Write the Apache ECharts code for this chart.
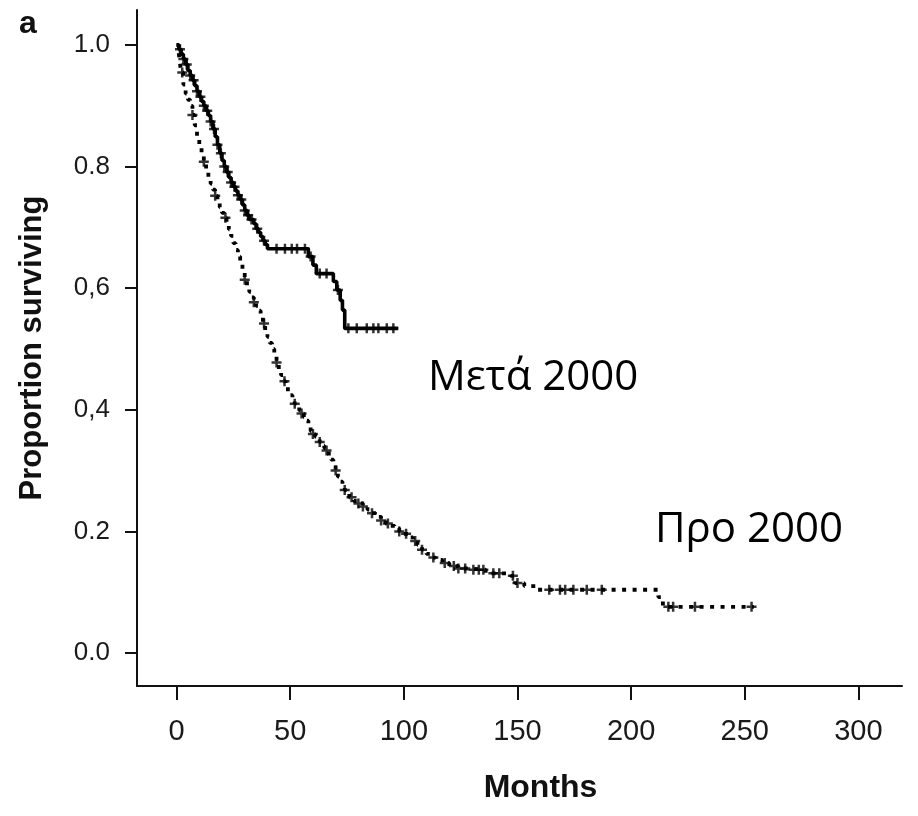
<!DOCTYPE html>
<html>
<head>
<meta charset="utf-8">
<script src="https://cdn.jsdelivr.net/npm/echarts@6/dist/echarts.min.js"></script>
<style>
  html, body { margin: 0; padding: 0; background: #fff; }
  #chart { width: 918px; height: 816px; }
</style>
</head>
<body>
<div id="chart"></div>
<script>
// Axis ticks
const xTicks = [0, 50, 100, 150, 200, 250, 300];
const yTicks = [0, 0.2, 0.4, 0.6, 0.8, 1.0];
const yTickLabels = ['0.0', '0.2', '0,4', '0,6', '0.8', '1.0'];

// Kaplan–Meier curve, patients treated after 2000 (time in months, survival after each drop)
const afterTimes = [0, 1, 2, 3, 4, 5, 6, 7, 8, 9, 10, 11, 12, 13, 14, 15, 16, 17, 18, 19, 20,
  21, 22, 23, 24, 25, 26, 27, 28, 29, 30, 31, 32, 34, 35, 36, 37, 38, 39, 40,
  58, 60, 61.5, 69, 70.5, 72, 73, 74, 97.5];
const afterSurv = [1.0, 0.993, 0.985, 0.977, 0.968, 0.958, 0.95, 0.942, 0.933, 0.924, 0.915,
  0.907, 0.9, 0.892, 0.884, 0.874, 0.862, 0.849, 0.836, 0.822, 0.81,
  0.8, 0.791, 0.782, 0.774, 0.767, 0.76, 0.753, 0.746, 0.737, 0.728, 0.72, 0.713, 0.706, 0.698,
  0.692, 0.685, 0.678, 0.672, 0.665,
  0.652, 0.638, 0.624, 0.611, 0.597, 0.58, 0.564, 0.534, 0.534];
const afterCensored = [1.5, 3, 4.5, 6, 7.5, 9, 10.5, 12, 13.5, 15, 16.5, 18, 19.5, 21, 22.5, 24,
  25.5, 27, 28.5, 30, 31.5, 33, 35.5, 38.5, 44, 47.7, 50.7, 53, 56.5, 59, 63, 66, 71, 75.6,
  79.3, 83.7, 86.6, 88.8, 92.5, 95.4];

// Kaplan–Meier curve, patients treated before 2000
const beforeTimes = [0, 1, 1.5, 2, 3, 4, 5, 6, 7, 8, 9, 10, 11, 12, 13, 14, 15, 16, 17, 18, 19,
  20, 21, 22, 23, 24, 25, 26, 27, 28, 29, 30, 31, 32, 33, 34, 35, 36, 37, 38, 39, 40,
  41, 42, 43, 44, 45, 46, 47, 48, 49, 50, 51, 52, 53, 54, 55, 56, 57, 58, 59, 60,
  61, 62, 63, 64, 65, 66, 67, 68, 69, 70, 71, 72, 73, 74, 75, 76, 78, 80, 82, 84,
  86, 88, 90, 92, 94, 96, 98, 100, 102, 104, 106, 108, 110, 112, 114, 117, 120, 124,
  129, 136, 147, 149, 153, 158, 212, 214, 254];
const beforeSurv = [1.0, 0.985, 0.97, 0.955, 0.935, 0.92, 0.91, 0.9, 0.885, 0.868, 0.85, 0.832,
  0.82, 0.808, 0.795, 0.783, 0.772, 0.762, 0.752, 0.742, 0.733,
  0.724, 0.716, 0.707, 0.697, 0.686, 0.674, 0.663, 0.652, 0.642, 0.627, 0.614, 0.603, 0.594,
  0.585, 0.577, 0.571, 0.563, 0.553, 0.542, 0.531, 0.52,
  0.51, 0.5, 0.489, 0.478, 0.467, 0.457, 0.447, 0.438, 0.43, 0.424, 0.416, 0.41, 0.404, 0.399,
  0.394, 0.388, 0.382, 0.371, 0.365, 0.36,
  0.356, 0.352, 0.347, 0.341, 0.337, 0.333, 0.325, 0.318, 0.31, 0.3, 0.29, 0.282, 0.275, 0.268,
  0.262, 0.256, 0.25, 0.246, 0.241, 0.236,
  0.23, 0.224, 0.218, 0.213, 0.209, 0.205, 0.2, 0.196, 0.19, 0.184, 0.178, 0.17, 0.163, 0.157,
  0.153, 0.148, 0.143, 0.139,
  0.137, 0.131, 0.127, 0.115, 0.11, 0.104, 0.092, 0.076, 0.076];
const beforeCensored = [2.5, 7, 12, 17, 21.5, 30, 34, 38.5, 44, 47.5, 52, 55, 60, 63, 66, 70,
  74, 77, 80, 82, 86, 90, 93, 98, 101, 105, 108, 113, 118, 122, 124, 127, 130.6, 133,
  135, 139.4, 142, 148, 150, 164, 168.7, 171, 174.6, 180.5, 187.1, 216.4, 218.5, 228.1, 253];

// Survival level of a step curve at time t
function survAt(times, surv, t) {
  let s = surv[0];
  for (let i = 0; i < times.length; i++) {
    if (times[i] <= t) s = surv[i];
  }
  return s;
}

const zip = (a, b) => a.map((v, i) => [v, b[i]]);
const censorPoints = (c, times, surv) => c.map(t => [t, survAt(times, surv, t)]);

// filled "+" glyph used for censored observations
const plusSymbol = 'path://M3.75,0H6.25V3.75H10V6.25H6.25V10H3.75V6.25H0V3.75H3.75Z';
const sans = '"Liberation Sans", Arial, sans-serif';
const greek = '"Open Sans", "Noto Sans", sans-serif';

const chart = echarts.init(document.getElementById('chart'), null, { renderer: 'canvas' });

chart.setOption({
  animation: false,
  backgroundColor: '#ffffff',
  grid: { left: 137, right: 16, top: 10, bottom: 130, containLabel: false },
  xAxis: {
    type: 'value',
    min: -17.4,
    max: 319.2,
    name: 'Months',
    nameLocation: 'middle',
    nameGap: 86,
    nameTextStyle: { fontFamily: sans, fontWeight: 'bold', fontSize: 32, color: '#111', padding: [0, 0, 0, 42] },
    axisLine: { show: true, onZero: false, lineStyle: { color: '#111', width: 2 } },
    axisTick: { show: true, length: 14, lineStyle: { color: '#111', width: 2 }, customValues: xTicks },
    axisLabel: {
      show: true, margin: 31, fontFamily: sans, fontSize: 29, color: '#1a1a1a',
      customValues: xTicks,
      formatter: v => String(Math.round(v))
    },
    splitLine: { show: false }
  },
  yAxis: {
    type: 'value',
    min: -0.0543,
    max: 1.0576,
    name: 'Proportion surviving',
    nameLocation: 'middle',
    nameGap: 89,
    nameRotate: 90,
    nameTextStyle: { fontFamily: sans, fontWeight: 'bold', fontSize: 31, color: '#111' },
    axisLine: { show: true, onZero: false, lineStyle: { color: '#111', width: 2 } },
    axisTick: { show: true, length: 12, lineStyle: { color: '#111', width: 2 }, customValues: yTicks },
    axisLabel: {
      show: true, margin: 27, fontFamily: sans, fontSize: 26, color: '#1a1a1a',
      customValues: yTicks,
      formatter: v => {
        const i = yTicks.findIndex(t => Math.abs(t - v) < 1e-6);
        return i >= 0 ? yTickLabels[i] : '';
      }
    },
    splitLine: { show: false }
  },
  graphic: [
    { type: 'text', left: 19, top: 8, style: { text: 'a', font: 'bold 32px ' + sans, fill: '#111' } },
    { type: 'text', x: 428, y: 378, style: { text: 'Μετά 2000', font: '42px ' + greek, fill: '#000', verticalAlign: 'middle' } },
    { type: 'text', x: 655, y: 530, style: { text: 'Προ 2000', font: '42px ' + greek, fill: '#000', verticalAlign: 'middle' } }
  ],
  series: [
    {
      name: 'Μετά 2000',
      type: 'line',
      step: 'end',
      showSymbol: false,
      data: zip(afterTimes, afterSurv),
      lineStyle: { color: '#000', width: 3.6 },
      z: 3
    },
    {
      name: 'Μετά 2000 censored',
      type: 'scatter',
      symbol: plusSymbol,
      symbolSize: 10,
      data: censorPoints(afterCensored, afterTimes, afterSurv),
      itemStyle: { color: '#000' },
      z: 4
    },
    {
      name: 'Προ 2000',
      type: 'line',
      step: 'end',
      showSymbol: false,
      data: zip(beforeTimes, beforeSurv),
      lineStyle: { color: '#000', width: 3.8, type: [4, 6.5] },
      z: 3
    },
    {
      name: 'Προ 2000 censored',
      type: 'scatter',
      symbol: plusSymbol,
      symbolSize: 10,
      data: censorPoints(beforeCensored, beforeTimes, beforeSurv),
      itemStyle: { color: '#000' },
      z: 4
    }
  ]
});
</script>
</body>
</html>
